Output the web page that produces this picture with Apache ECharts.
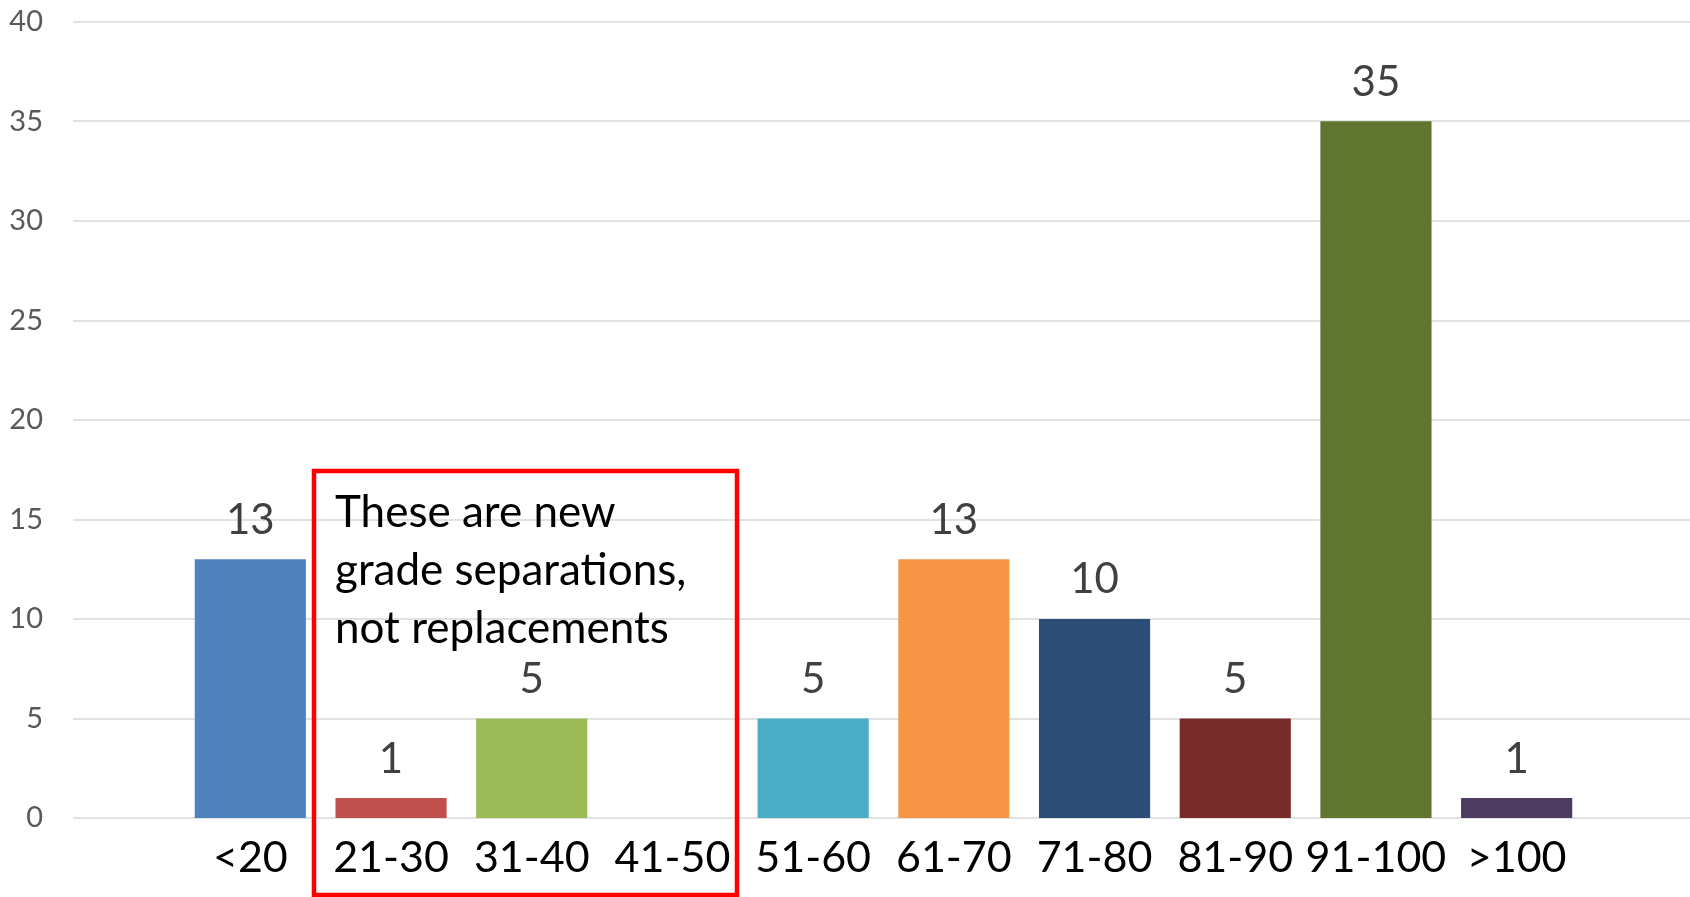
<!DOCTYPE html>
<html>
<head>
<meta charset="utf-8">
<script src="https://cdn.jsdelivr.net/npm/echarts@6/dist/echarts.min.js"></script>
<style>
html,body{margin:0;padding:0;background:#fff;}
#chart{width:1690px;height:897px;}
</style>
</head>
<body>
<div id="chart"></div>
<script>
const categories = ['<20','21-30','31-40','41-50','51-60','61-70','71-80','81-90','91-100','>100'];
const counts = [13, 1, 5, 0, 5, 13, 10, 5, 35, 1];
const barColors = ['#4F81BD','#C0504D','#9BBB59','#8064A2','#4BACC6','#F79646','#2C4D75','#772C2A','#5F7530','#4D3B62'];
const yTicks = { min: 0, max: 40, interval: 5 };
const noteLines = ['These are new', 'grade separations,', 'not replacements'];

const FONT = 'Lato, "Open Sans", sans-serif';
const chart = echarts.init(document.getElementById('chart'));

chart.setOption({
  backgroundColor: '#ffffff',
  animation: false,
  grid: [
    { left: 73, right: 0, top: 21.7, bottom: 79, containLabel: false },
    { left: 180, right: 103, top: 21.7, bottom: 79, containLabel: false }
  ],
  xAxis: [
    { gridIndex: 0, type: 'category', data: categories, show: false },
    {
      gridIndex: 1, type: 'category', data: categories,
      axisLine: { show: false }, axisTick: { show: false },
      axisLabel: { color: '#000000', fontFamily: FONT, fontSize: 43, margin: 19, interval: 0 }
    }
  ],
  yAxis: [
    {
      gridIndex: 0, type: 'value', min: yTicks.min, max: yTicks.max, interval: yTicks.interval,
      axisLine: { show: false }, axisTick: { show: false },
      axisLabel: { color: '#595959', fontFamily: FONT, fontSize: 29, margin: 30 },
      splitLine: { show: true, lineStyle: { color: '#d9d9d9', width: 1.5 } }
    },
    {
      gridIndex: 1, type: 'value', min: yTicks.min, max: yTicks.max, interval: yTicks.interval,
      show: false, splitLine: { show: false }
    }
  ],
  series: [{
    type: 'bar',
    xAxisIndex: 1, yAxisIndex: 1,
    barCategoryGap: '21%',
    data: counts.map((v, i) => ({ value: v, itemStyle: { color: barColors[i] } })),
    label: {
      show: true, position: 'top', distance: 18,
      color: '#404040', fontFamily: FONT, fontSize: 42,
      formatter: p => (p.value === 0 ? '' : String(p.value))
    }
  }],
  graphic: [
    {
      type: 'rect', z: 100,
      shape: { x: 314, y: 471, width: 423, height: 424 },
      style: { fill: 'rgba(0,0,0,0)', stroke: '#ff0000', lineWidth: 4.5 }
    },
    {
      type: 'text', z: 101, left: 335, top: 484,
      style: {
        text: noteLines.join('\n'),
        fill: '#000000', font: '44px ' + FONT, lineHeight: 58
      }
    }
  ]
});
</script>
</body>
</html>
